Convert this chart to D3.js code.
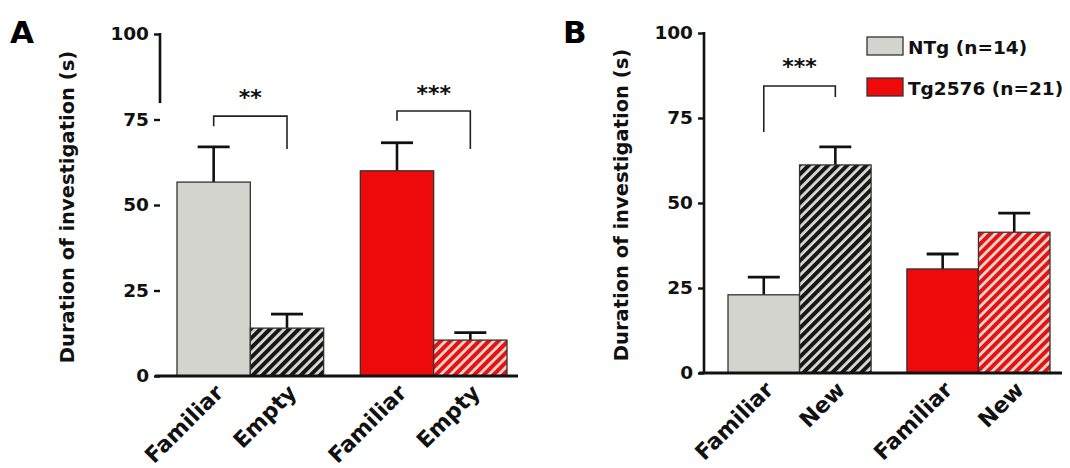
<!DOCTYPE html>
<html>
<head>
<meta charset="utf-8">
<script src="https://cdn.jsdelivr.net/npm/d3@7"></script>
<style>
  html, body { margin: 0; padding: 0; background: #ffffff; }
  svg { display: block; font-family: "DejaVu Sans", sans-serif; font-weight: bold; }
</style>
</head>
<body>
<svg id="chart" width="1070" height="468"></svg>
<script>
// ---------- data ----------
const groups = ["NTg (n=14)", "Tg2576 (n=21)"];
const conditionsA = ["Familiar", "Empty"];
const conditionsB = ["Familiar", "New"];
const yTicks = [0, 25, 50, 75, 100];

// Panel A: mean and mean+SEM per group (Familiar, Empty)
const meanA_NTg = [56.7, 14.0];
const errA_NTg  = [67.0, 18.1];
const meanA_Tg  = [60.0, 10.5];
const errA_Tg   = [68.2, 12.7];

// Panel B: mean and mean+SEM per group (Familiar, New)
const meanB_NTg = [23.0, 61.2];
const errB_NTg  = [28.2, 66.5];
const meanB_Tg  = [30.6, 41.4];
const errB_Tg   = [35.0, 47.0];

// significance brackets: [group, topValue, leftLegEnd, rightLegEnd, starsValue, label]
const sigA = [
  ["NTg (n=14)", 76.0, 73.0, 66.4, 79.2, "**"],
  ["Tg2576 (n=21)", 77.5, 74.6, 66.4, 80.4, "***"]
];
const sigB = [
  ["NTg (n=14)", 84.4, 70.9, 81.2, 87.9, "***"]
];

const yLabel = "Duration of investigation (s)";

// ---------- styles ----------
const colors = { "NTg (n=14)": "#d3d4ce", "Tg2576 (n=21)": "#ee0a0a" };
const hatchDark = { "NTg (n=14)": "#161616", "Tg2576 (n=21)": "#ec0f0f" };
const hatchLight = "#dcdcd4";

const svg = d3.select("#chart");
const defs = svg.append("defs");
groups.forEach((g, i) => {
  const p = defs.append("pattern")
    .attr("id", "hatch" + i)
    .attr("patternUnits", "userSpaceOnUse")
    .attr("width", 6.8).attr("height", 6.8)
    .attr("patternTransform", "rotate(45)");
  p.append("rect").attr("width", 6.8).attr("height", 6.8).attr("fill", hatchLight);
  p.append("rect").attr("width", 4.0).attr("height", 6.8).attr("fill", hatchDark[g]);
});

function panel(opts) {
  const { y0, y1, axisX, xRange, xAxisRange, conds, meansByGroup, errsByGroup, sig, showAxisTo, labelX, letter, letterX } = opts;
  const y = d3.scaleLinear().domain([0, 100]).range([y0, y1]);
  const xg = d3.scaleBand().domain(groups).range(xRange).paddingInner(0.2).paddingOuter(0);
  const xc = d3.scaleBand().domain(conds).range([0, xg.bandwidth()]).padding(0);

  const g = svg.append("g");

  // bars
  groups.forEach((grp, gi) => {
    conds.forEach((c, ci) => {
      const v = meansByGroup[gi][ci];
      const e = errsByGroup[gi][ci];
      const x = xg(grp) + xc(c);
      const cx = x + xc.bandwidth() / 2;
      g.append("line").attr("x1", cx).attr("x2", cx).attr("y1", y(v)).attr("y2", y(e))
        .attr("stroke", "#111").attr("stroke-width", 2.6);
      g.append("line").attr("x1", cx - 16).attr("x2", cx + 16).attr("y1", y(e)).attr("y2", y(e))
        .attr("stroke", "#111").attr("stroke-width", 2.8);
      g.append("rect")
        .attr("x", x).attr("width", xc.bandwidth())
        .attr("y", y(v)).attr("height", y(0) - y(v))
        .attr("fill", ci === 0 ? colors[grp] : "url(#hatch" + gi + ")")
        .attr("stroke", "#333").attr("stroke-width", 1.3);
    });
  });

  // y axis
  const yAxis = d3.axisLeft(y).tickValues(yTicks).tickSize(6).tickPadding(5).tickFormat(d3.format("d"));
  const ya = g.append("g").attr("transform", `translate(${axisX},0)`).call(yAxis);
  ya.select(".domain").remove();
  ya.selectAll(".tick line").attr("stroke", "#111").attr("stroke-width", 2.4);
  ya.selectAll(".tick text").attr("font-size", 18.5).attr("font-weight", "bold")
    .attr("font-family", "DejaVu Sans").attr("fill", "#111");
  g.append("line").attr("x1", axisX).attr("x2", axisX)
    .attr("y1", y(100) - 1).attr("y2", y(showAxisTo))
    .attr("stroke", "#111").attr("stroke-width", 2.6);

  // x axis
  g.append("line").attr("x1", xAxisRange[0]).attr("x2", xAxisRange[1])
    .attr("y1", y(0)).attr("y2", y(0)).attr("stroke", "#111").attr("stroke-width", 2.8);

  // x labels
  groups.forEach(grp => {
    conds.forEach(c => {
      const cx = xg(grp) + xc(c) + xc.bandwidth() / 2;
      g.append("text")
        .attr("transform", `translate(${cx + 11},${y(0) + 18}) rotate(-45)`)
        .attr("text-anchor", "end")
        .attr("font-size", 22).attr("fill", "#111")
        .text(c);
    });
  });

  // y label
  g.append("text")
    .attr("transform", `translate(${labelX},${(y(0) + y(100)) / 2 + 2}) rotate(-90)`)
    .attr("text-anchor", "middle").attr("font-size", 19.5).attr("fill", "#111")
    .text(yLabel);

  // significance
  sig.forEach(s => {
    const [grp, top, l, r, sv, lab] = s;
    const xl = xg(grp) + xc(conds[0]) + xc.bandwidth() / 2;
    const xr = xg(grp) + xc(conds[1]) + xc.bandwidth() / 2;
    g.append("path")
      .attr("d", `M${xl},${y(l)}V${y(top)}H${xr}V${y(r)}`)
      .attr("fill", "none").attr("stroke", "#222").attr("stroke-width", 1.6);
    g.append("text").attr("x", (xl + xr) / 2).attr("y", y(sv))
      .attr("text-anchor", "middle").attr("font-size", 22).attr("fill", "#111")
      .text(lab);
  });

  // panel letter
  g.append("text").attr("x", letterX).attr("y", 43).attr("font-size", 31).attr("fill", "#000")
    .text(letter);

  return { y, xg, xc };
}

panel({
  y0: 376, y1: 34, axisX: 160, xRange: [177, 507], xAxisRange: [155, 518],
  conds: conditionsA,
  meansByGroup: [meanA_NTg, meanA_Tg], errsByGroup: [errA_NTg, errA_Tg],
  sig: sigA, showAxisTo: 79.8, labelX: 74, letter: "A", letterX: 10
});

panel({
  y0: 373, y1: 33, axisX: 704, xRange: [728, 1050], xAxisRange: [699, 1062],
  conds: conditionsB,
  meansByGroup: [meanB_NTg, meanB_Tg], errsByGroup: [errB_NTg, errB_Tg],
  sig: sigB, showAxisTo: 0, labelX: 628, letter: "B", letterX: 563
});

// legend (panel B)
const legendY = [37, 78];
groups.forEach((grp, i) => {
  svg.append("rect").attr("x", 867).attr("y", legendY[i]).attr("width", 36).attr("height", 18)
    .attr("fill", colors[grp]).attr("stroke", "#333").attr("stroke-width", 1.3);
  svg.append("text").attr("x", 908).attr("y", legendY[i] + 16.5)
    .attr("font-size", 18.5).attr("fill", "#111").text(grp);
});
</script>
</body>
</html>
